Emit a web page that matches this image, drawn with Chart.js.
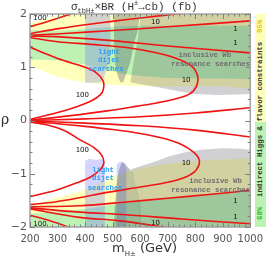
<!DOCTYPE html>
<html lang="en">
<head>
<meta charset="UTF-8">
<title>sigma x BR contours</title>
<script src="https://cdn.jsdelivr.net/npm/chart.js"></script>
<style>
  body { margin: 0; background: #fff; }
  #wrap { position: relative; width: 269px; height: 258px; overflow: hidden; }
  #c { position: absolute; left: 0; top: 0; }
  .txt { position: absolute; white-space: nowrap; color: #333; line-height: 1; }
  .txt sub, .txt sup { font-size: 7px; line-height: 0; }
  #title { left: 71px; top: 1px; font: 11px "Liberation Mono", monospace; }
  #xlab { left: 112px; top: 240px; font: 13px "DejaVu Sans", sans-serif; }
  #ylab { left: 1px; top: 111px; font: 14px "DejaVu Serif", serif; }
  #strip { position: absolute; left: 255px; top: 14px; width: 11px; height: 213px; }
  #strip .hi { height: 108px; background: #ffffbc; }
  #strip .lo { height: 105px; background: #bdf2b4; }
  #striptext { position: absolute; left: 154px; top: 115px; width: 213px; height: 11px;
               transform: rotate(-90deg); font: bold 7.4px "Liberation Mono", monospace; line-height: 11px; }
  #striptext span { position: absolute; top: 0; }
</style>
</head>
<body>
<div id="wrap">
  <canvas id="c" width="269" height="258"></canvas>
  <div class="txt" id="title">&sigma;<sub>tbH&plusmn;</sub>&times;BR (H<sup>&plusmn;</sup>&rarr;cb) (fb)</div>
  <div class="txt" id="xlab">m<sub>H&plusmn;</sub> (GeV)</div>
  <div class="txt" id="ylab">&rho;</div>
  <div id="strip"><div class="hi"></div><div class="lo"></div></div>
  <div id="striptext">
    <span style="left:7px;color:#2fbf2f">68%</span>
    <span style="left:30px;color:#333">indirect Higgs &amp; flavor constraints</span>
    <span style="left:194px;color:#e8c020">95%</span>
  </div>
</div>

<script>
// axis ticks
const xTicks = [200, 300, 400, 500, 600, 700, 800, 900, 1000];
const yTicks = [-2, -1, 0, 1, 2];

// indirect constraints, 95% (yellow) and 68% (green) regions  [m, rho]
const band95Up = [[190,1.8],[250,1.9],[300,1.97],[340,2.05],[1010,2.05],[1010,0.6],[900,0.64],[800,0.65],[700,0.64],[600,0.65],[500,0.67],[420,0.7],[350,0.76],[300,0.82],[250,0.92],[190,1.06]];
const band68Up = [[190,1.7],[300,1.68],[400,1.72],[500,1.76],[600,1.78],[1010,1.78],[1010,0.78],[850,0.79],[700,0.8],[620,0.83],[560,0.86],[520,0.9],[480,0.95],[440,1.0],[400,1.05],[350,1.1],[300,1.13],[250,1.14],[190,1.14]];
const band95Down = [[190,-1.6],[250,-1.52],[300,-1.45],[350,-1.38],[400,-1.3],[450,-1.18],[500,-1.06],[560,-0.95],[650,-0.85],[750,-0.78],[850,-0.74],[1010,-0.71],[1010,-2.1],[190,-2.1]];
const band68Down = [[190,-1.76],[300,-1.71],[400,-1.66],[500,-1.58],[600,-1.5],[700,-1.45],[800,-1.4],[900,-1.35],[1010,-1.31],[1010,-2.1],[190,-2.1]];

// direct search exclusions
const wbUp = [[602,2.1],[1010,2.1],[1010,0.5],[950,0.49],[880,0.48],[800,0.5],[740,0.55],[690,0.6],[640,0.65],[600,0.68],[565,0.72],[570,0.9],[580,1.2],[590,1.5],[598,1.8]];
const wbDown = [[565,-0.92],[600,-0.86],[650,-0.78],[700,-0.68],[760,-0.6],[820,-0.55],[900,-0.52],[960,-0.53],[1010,-0.55],[1010,-2.1],[600,-2.1],[598,-1.6],[590,-1.3],[578,-1.05]];
const dijetUp = [[400,2.1],[492,2.1],[492,1.3],[486,1.1],[478,0.95],[468,0.8],[458,0.72],[430,0.71],[400,0.71]];
const dijetDown = [[400,-0.76],[415,-0.72],[440,-0.74],[458,-0.72],[472,-0.78],[472,-2.1],[400,-2.1]];
const dijetDownB = [[515,-0.82],[528,-0.77],[545,-0.8],[550,-0.9],[550,-2.1],[515,-2.1]];
const tongueUp = [[505,2.1],[602,2.1],[592,1.7],[578,1.45],[566,1.13],[550,0.88],[538,0.72],[528,0.72],[518,0.85],[508,1.1],[505,1.5]];
const tongueDown = [[534,-0.78],[545,-0.82],[560,-0.9],[575,-1.0],[590,-1.3],[600,-1.6],[602,-2.1],[505,-2.1],[508,-1.6],[515,-1.2],[522,-0.95]];

// sigma x BR contours (100, 10, 1 fb)
const up100a = [[200,1.76],[270,1.87],[360,2.02]];
const up10a = [[200,1.63],[310,1.73],[450,1.83],[560,1.9],[660,1.96],[770,2.02]];
const up1a = [[200,1.6],[310,1.63],[500,1.69],[700,1.76],[1000,1.87]];
const up1b = [[200,1.59],[310,1.57],[500,1.5],[700,1.4],[1000,1.27]];
const up10b = [[200,1.56],[300,1.48],[420,1.43],[550,1.37],[650,1.28],[730,1.17],[785,1.03],[808,0.85],[805,0.65],[780,0.5],[730,0.41],[660,0.33],[590,0.27],[480,0.18],[380,0.11],[280,0.05],[200,0.01]];
const up100b = [[200,1.38],[260,1.25],[320,1.13],[400,1.0],[440,0.9],[465,0.75],[467,0.6],[455,0.48],[420,0.36],[370,0.26],[300,0.15],[240,0.07],[200,0.02]];
const mid1a = [[200,0.0],[400,0.03],[600,0.07],[800,0.14],[1000,0.24]];
const mid1b = [[200,-0.01],[400,-0.05],[600,-0.1],[800,-0.18],[1000,-0.31]];
const dn10b = [[200,-0.02],[300,-0.06],[400,-0.11],[500,-0.17],[595,-0.24],[680,-0.33],[750,-0.45],[795,-0.6],[815,-0.75],[805,-0.92],[770,-1.05],[700,-1.16],[600,-1.25],[480,-1.35],[380,-1.45],[290,-1.53],[200,-1.58]];
const dn100b = [[200,-0.03],[260,-0.08],[330,-0.2],[380,-0.36],[430,-0.5],[460,-0.65],[468,-0.8],[455,-0.92],[420,-1.06],[370,-1.17],[300,-1.3],[240,-1.38],[200,-1.43]];
const dn1b = [[200,-1.62],[380,-1.6],[550,-1.53],[700,-1.46],[850,-1.39],[1000,-1.31]];
const dn1a = [[200,-1.64],[380,-1.72],[550,-1.77],[750,-1.85],[1000,-1.94]];
const dn10a = [[200,-1.66],[380,-1.82],[520,-1.88],[620,-1.95],[710,-2.02]];
const dn100a = [[200,-1.78],[270,-1.88],[350,-2.02]];

// contour value labels and region names, anchored in [m, rho]
const contourLabels = [['100',236,1.92],['10',656,1.84],['1',946,1.71],['1',946,1.45],['10',767,0.75],['100',390,0.47],
                       ['100',390,-0.56],['10',767,-0.81],['1',946,-1.52],['1',946,-1.82],['10',656,-1.93],['100',236,-1.95]];
const dijetText = [['light',487,1.28],['dijet',487,1.13],['searches',476,0.96],
                   ['light',465,-0.94],['dijet',465,-1.09],['searches',473,-1.28]];
const wbText = [['inclusive Wb',835,1.22],['resonance searches',856,1.05],
                ['inclusive Wb',874,-1.13],['resonance searches',856,-1.3]];

const pts = arr => arr.map(p => ({x: p[0], y: p[1]}));

function region(arr, color, order) {
  return { data: pts(arr), fill: 'shape', backgroundColor: color, borderWidth: 0,
           borderColor: 'rgba(0,0,0,0)', tension: 0, order: order };
}
function contour(arr) {
  return { data: pts(arr), fill: false, borderColor: '#f01414', borderWidth: 1.6,
           tension: 0.35, order: 0 };
}

const YELLOW = '#ffffbc', GREEN = '#bdf2b4';
const WB = 'rgba(70,70,85,0.25)', DIJET = 'rgba(100,100,255,0.28)', TONGUE = 'rgba(60,70,90,0.32)';
const datasets = [
  region(band95Up, YELLOW, 6), region(band95Down, YELLOW, 6),
  region(band68Up, GREEN, 5), region(band68Down, GREEN, 5),
  region(wbUp, WB, 4), region(wbDown, WB, 4),
  region(dijetUp, DIJET, 3), region(dijetDown, DIJET, 3), region(dijetDownB, DIJET, 3),
  region(tongueUp, TONGUE, 2), region(tongueDown, TONGUE, 2),
];
[up100a, up10a, up1a, up1b, up10b, up100b, mid1a, mid1b, dn10b, dn100b, dn1b, dn1a, dn10a, dn100a]
  .forEach(c => datasets.push(contour(c)));

const overlay = {
  id: 'overlay',
  afterDatasetsDraw(chart) {
    const {ctx, chartArea: a, scales: {x, y}} = chart;
    ctx.save();
    ctx.textAlign = 'center';
    ctx.textBaseline = 'middle';

    ctx.font = '7px "DejaVu Sans"';
    ctx.fillStyle = '#111';
    contourLabels.forEach(l => ctx.fillText(l[0], x.getPixelForValue(l[1]), y.getPixelForValue(l[2])));

    ctx.font = 'bold 7.3px "Liberation Mono"';
    ctx.fillStyle = '#2a9df4';
    dijetText.forEach(l => ctx.fillText(l[0], x.getPixelForValue(l[1]), y.getPixelForValue(l[2])));
    ctx.fillStyle = '#6e6e6e';
    wbText.forEach(l => ctx.fillText(l[0], x.getPixelForValue(l[1]), y.getPixelForValue(l[2])));

    // frame with inward ticks
    ctx.strokeStyle = '#a3a3a3';
    ctx.lineWidth = 1.5;
    ctx.strokeRect(a.left, a.top, a.right - a.left, a.bottom - a.top);
    ctx.strokeStyle = '#808080';
    ctx.lineWidth = 1;
    ctx.beginPath();
    for (let m = 200; m <= 1000; m += 20) {
      const px = Math.round(x.getPixelForValue(m)) + 0.5;
      const len = m % 100 === 0 ? 5 : 2.5;
      ctx.moveTo(px, a.bottom); ctx.lineTo(px, a.bottom - len);
      ctx.moveTo(px, a.top); ctx.lineTo(px, a.top + len);
    }
    for (let k = -10; k <= 10; k++) {
      const py = Math.round(y.getPixelForValue(k / 5)) + 0.5;
      const len = k % 5 === 0 ? 5 : 2.5;
      ctx.moveTo(a.left, py); ctx.lineTo(a.left + len, py);
      ctx.moveTo(a.right, py); ctx.lineTo(a.right - len, py);
    }
    ctx.stroke();
    ctx.restore();
  }
};

new Chart(document.getElementById('c'), {
  type: 'line',
  data: { datasets },
  options: {
    responsive: false,
    animation: false,
    devicePixelRatio: 1,
    layout: { padding: { top: 14, right: 16, left: 0, bottom: 0 } },
    elements: { point: { radius: 0 } },
    plugins: { legend: { display: false }, tooltip: { enabled: false } },
    scales: {
      x: {
        type: 'linear', min: 200, max: 1000,
        afterBuildTicks: s => { s.ticks = xTicks.map(v => ({ value: v })); },
        afterFit: s => { s.height = 31; },
        grid: { display: false, drawTicks: false },
        border: { display: false },
        ticks: { padding: 6, color: '#555', font: { family: 'DejaVu Sans', size: 10 }, maxRotation: 0, autoSkip: false,
                 callback: v => String(v) }
      },
      y: {
        type: 'linear', min: -2, max: 2,
        afterBuildTicks: s => { s.ticks = yTicks.map(v => ({ value: v })); },
        afterFit: s => { s.width = 30; },
        grid: { display: false, drawTicks: false },
        border: { display: false },
        ticks: { padding: 3, color: '#555', font: { family: 'DejaVu Sans', size: 11 },
                 callback: v => v < 0 ? '\u2212' + (-v) : String(v) }
      }
    }
  },
  plugins: [overlay]
});
</script>
</body>
</html>
